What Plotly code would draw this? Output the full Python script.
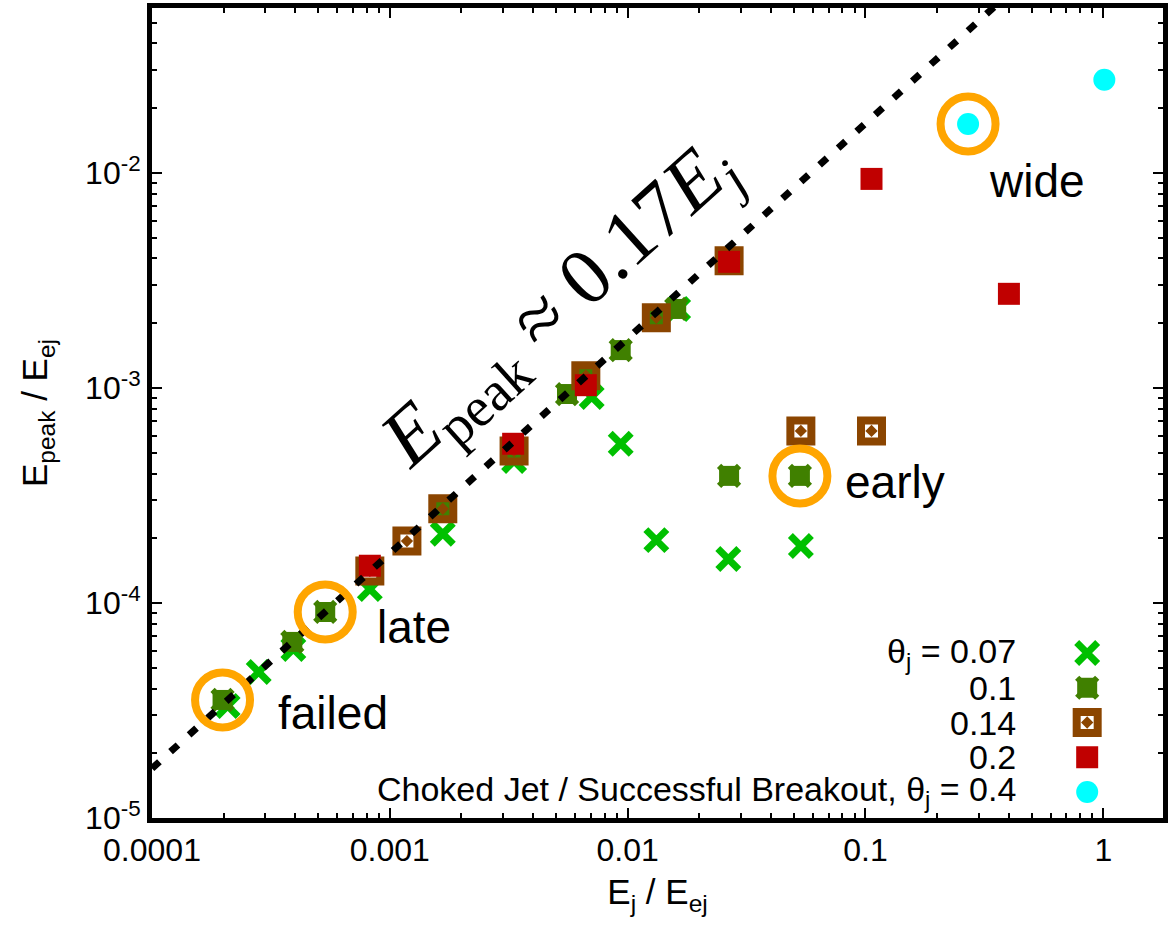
import math
import plotly.graph_objects as go

# Peak energy vs jet energy (both normalised by the ejecta energy)
# theta_j = 0.07
ej_007 = [2.08e-4, 2.81e-4, 3.93e-4, 8.24e-4, 1.67e-3, 3.33e-3, 7.06e-3, 9.35e-3, 1.63e-2, 1.32e-2, 2.65e-2, 5.35e-2]
ep_007 = [3.32e-5, 4.78e-5, 6.11e-5, 1.16e-4, 2.10e-4, 4.57e-4, 9.08e-4, 5.50e-4, 2.33e-3, 1.96e-4, 1.60e-4, 1.84e-4]
# theta_j = 0.1
ej_01 = [1.98e-4, 3.89e-4, 5.35e-4, 1.67e-3, 3.33e-3, 5.56e-3, 6.67e-3, 9.35e-3, 1.32e-2, 1.60e-2, 2.67e-2, 5.30e-2]
ep_01 = [3.54e-5, 6.59e-5, 9.08e-5, 2.74e-4, 4.93e-4, 9.37e-4, 1.14e-3, 1.50e-3, 2.12e-3, 2.33e-3, 3.90e-4, 3.90e-4]
# theta_j = 0.14
ej_014 = [8.24e-4, 1.18e-3, 1.67e-3, 3.33e-3, 6.67e-3, 1.32e-2, 2.67e-2, 5.35e-2, 1.06e-1]
ep_014 = [1.41e-4, 1.94e-4, 2.74e-4, 5.09e-4, 1.14e-3, 2.12e-3, 3.90e-3, 6.31e-4, 6.31e-4]
# theta_j = 0.2
ej_02 = [8.24e-4, 3.30e-3, 6.67e-3, 2.67e-2, 1.06e-1, 4.01e-1]
ep_02 = [1.49e-4, 5.50e-4, 1.03e-3, 3.86e-3, 9.38e-3, 2.74e-3]
# choked jet / successful breakout, theta_j = 0.4
ej_04 = [0.270, 1.01]
ep_04 = [0.0169, 0.0271]

# fit  E_peak ~ 0.17 E_j
fit_coef = 0.17
fit_x = [1e-4, 1.0]

# highlighted runs: (label, x, y, xshift, yshift)
highlights = [
    ("failed", ej_01[0], ep_01[0], 53, -13),
    ("late", ej_01[2], ep_01[2], 50, -15),
    ("early", ej_01[11], ep_01[11], 43, -6),
    ("wide", ej_04[0], ep_04[0], 19, -57),
]

x_tickvals = [1e-4, 1e-3, 1e-2, 1e-1, 1]
x_ticktext = ["0.0001", "0.001", "0.01", "0.1", "1"]
y_tickvals = [1e-5, 1e-4, 1e-3, 1e-2]
y_ticktext = ["10<sup>-5</sup>", "10<sup>-4</sup>", "10<sup>-3</sup>", "10<sup>-2</sup>"]

legend_labels = ["θ<sub>j</sub> = 0.07", "0.1", "0.14", "0.2",
                 "Choked Jet / Successful Breakout, θ<sub>j</sub> = 0.4"]

C_007 = "#00c000"
C_01 = "#408000"
C_014 = "#8b4500"
C_02 = "#c00000"
C_04 = "#00ffff"
C_RING = "#ffa500"

FONT = "Liberation Sans, Arial, sans-serif"

fig = go.Figure()


def add_series(x, y, kind, xaxis="x", yaxis="y"):
    kw = dict(mode="markers", showlegend=False, hoverinfo="skip", xaxis=xaxis, yaxis=yaxis)
    if kind == "007":
        fig.add_trace(go.Scatter(x=x, y=y, marker=dict(symbol="x-thin", size=21, color=C_007,
                                                       line=dict(width=7, color=C_007)), **kw))
    elif kind == "01":
        fig.add_trace(go.Scatter(x=x, y=y, marker=dict(symbol="square", size=20, color=C_01,
                                                       line=dict(width=0)), **kw))
        fig.add_trace(go.Scatter(x=x, y=y, marker=dict(symbol="x-thin", size=20, color=C_01,
                                                       line=dict(width=6, color=C_01)), **kw))
    elif kind == "014":
        fig.add_trace(go.Scatter(x=x, y=y, marker=dict(symbol="square-open-dot", size=21, color=C_014,
                                                       line=dict(width=8, color=C_014)), **kw))
    elif kind == "02":
        fig.add_trace(go.Scatter(x=x, y=y, marker=dict(symbol="square", size=22, color=C_02,
                                                       line=dict(width=0)), **kw))
    elif kind == "04":
        fig.add_trace(go.Scatter(x=x, y=y, marker=dict(symbol="circle", size=22, color=C_04,
                                                       line=dict(width=0)), **kw))


add_series(ej_007, ep_007, "007")
add_series(ej_01, ep_01, "01")
add_series(ej_014, ep_014, "014")
add_series(ej_02, ep_02, "02")
add_series(ej_04, ep_04, "04")

# dotted fit line
fig.add_trace(go.Scatter(x=fit_x, y=[fit_coef * v for v in fit_x], mode="lines",
                         line=dict(color="black", width=7, dash="10px,15px"),
                         showlegend=False, hoverinfo="skip"))

# rings around highlighted runs
fig.add_trace(go.Scatter(x=[h[1] for h in highlights], y=[h[2] for h in highlights], mode="markers",
                         marker=dict(symbol="circle-open", size=55, color=C_RING,
                                     line=dict(width=8, color=C_RING)),
                         showlegend=False, hoverinfo="skip"))

annotations = []
for label, hx, hy, dx, dy in highlights:
    annotations.append(dict(x=math.log10(hx), y=math.log10(hy), xref="x", yref="y", text=label,
                            showarrow=False, xanchor="left", yanchor="middle",
                            xshift=dx, yshift=dy, font=dict(family=FONT, size=46, color="black")))

# fit label along the line
annotations.append(dict(x=-2.28, y=-2.62, xref="x", yref="y",
                        text="<i>E</i><sub>peak</sub> ≈ 0.17<i>E</i><sub><i>j</i></sub>",
                        showarrow=False, textangle=-42,
                        font=dict(family="Liberation Serif, Times New Roman, serif", size=80, color="black")))

# key (labels on the left, symbols on the right)
key_sym_x = 0.925
key_txt_x = 0.857
key_top = 0.2037
key_step = 0.0429
key_kinds = ["007", "01", "014", "02", "04"]
for i, (lab, kind) in enumerate(zip(legend_labels, key_kinds)):
    ky = key_top - i * key_step
    add_series([key_sym_x], [ky], kind, xaxis="x2", yaxis="y2")
    annotations.append(dict(x=key_txt_x, y=ky, xref="paper", yref="paper", text=lab,
                            showarrow=False, xanchor="right", yanchor="middle",
                            font=dict(family=FONT, size=34, color="black")))

minor_x = [m * 10 ** e for e in range(-4, 1) for m in range(2, 10)]
minor_y = [m * 10 ** e for e in range(-5, -1) for m in range(2, 10)]

axis_common = dict(showline=True, linecolor="black", linewidth=5, mirror="ticks",
                   ticks="inside", ticklen=10, tickwidth=2, tickcolor="black",
                   showgrid=False, zeroline=False,
                   tickfont=dict(family=FONT, size=32, color="black"))

fig.update_layout(
    width=1168, height=931,
    margin=dict(l=152, r=0, t=8, b=113),
    paper_bgcolor="white", plot_bgcolor="white",
    showlegend=False,
    xaxis=dict(type="log", range=[-4, 0.251], tickmode="array", tickvals=x_tickvals, ticktext=x_ticktext,
               minor=dict(tickmode="array", tickvals=minor_x, ticks="inside", ticklen=5, tickwidth=2,
                          tickcolor="black", showgrid=False),
               title=dict(text="E<sub>j</sub> / E<sub>ej</sub>", font=dict(family=FONT, size=35, color="black"),
                          standoff=14),
               **axis_common),
    yaxis=dict(type="log", range=[-5, -1.233], tickmode="array", tickvals=y_tickvals, ticktext=y_ticktext,
               minor=dict(tickmode="array", tickvals=minor_y, ticks="inside", ticklen=5, tickwidth=2,
                          tickcolor="black", showgrid=False),
               title=dict(text="E<sub>peak</sub> / E<sub>ej</sub>", font=dict(family=FONT, size=35, color="black"),
                          standoff=28),
               **axis_common),
    xaxis2=dict(overlaying="x", range=[0, 1], visible=False, fixedrange=True),
    yaxis2=dict(overlaying="y", range=[0, 1], visible=False, fixedrange=True),
    annotations=annotations,
)

fig.write_html("out.html", config={"displayModeBar": False})
